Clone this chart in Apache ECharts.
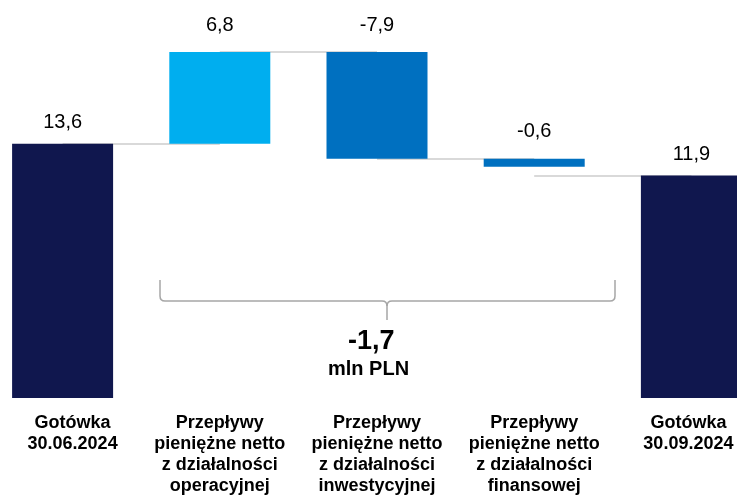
<!DOCTYPE html>
<html>
<head>
<meta charset="utf-8">
<script src="https://cdn.jsdelivr.net/npm/echarts@6/dist/echarts.min.js"></script>
<style>
  html, body { margin: 0; padding: 0; background: #fff; }
  #chart { width: 737px; height: 499px; }
</style>
</head>
<body>
<div id="chart"></div>
<script>
// dane (mln PLN)
var categories = [
  'Gotówka\n30.06.2024',
  'Przepływy\npieniężne netto\nz działalności\noperacyjnej',
  'Przepływy\npieniężne netto\nz działalności\ninwestycyjnej',
  'Przepływy\npieniężne netto\nz działalności\nfinansowej',
  'Gotówka\n30.09.2024'
];
var startCash = 13.6;
var flows = [6.8, -7.9, -0.6];
var endCash = 11.9;
var netChange = -1.7;
var unitText = 'mln PLN';

var FONT = 'Liberation Sans, Arial, sans-serif';
var fmt = function (v) { return String(v).replace('.', ','); };

// pomocnicze serie do wykresu kaskadowego
var levels = [startCash];
flows.forEach(function (f) {
  levels.push(Math.round((levels[levels.length - 1] + f) * 10) / 10);
});
var totals = [startCash, '-', '-', '-', endCash];
var base = ['-'];
var deltas = ['-'];
flows.forEach(function (f, i) {
  base.push(Math.min(levels[i], levels[i + 1]));
  deltas.push({
    value: Math.abs(f),
    itemStyle: { color: f >= 0 ? '#00AEEF' : '#0070C0' }
  });
});
base.push('-');
deltas.push('-');

// skrajne podpisy lekko przesunięte do środka
var catData = categories.map(function (c, i) {
  var pad = [0, 0, 0, 0];
  if (i === 0) pad = [0, 0, 0, 20];
  if (i === categories.length - 1) pad = [0, 6, 0, 0];
  return { value: c, textStyle: { padding: pad } };
});

// linie łączące słupki
var flowLinks = flows.map(function (f, i) {
  return [{ coord: [i, levels[i]] }, { coord: [i + 1, levels[i]] }];
});
var lastLink = [[{ coord: [3, endCash] }, { coord: [4, endCash] }]];

var linkStyle = { color: '#d9d9d9', width: 2, type: 'solid' };

// klamra pod słupkami przepływów
var braceStyle = { stroke: '#a6a6a6', lineWidth: 1.5, fill: null };
function seg(x1, y1, x2, y2) {
  return { type: 'line', silent: true, shape: { x1: x1, y1: y1, x2: x2, y2: y2 }, style: braceStyle };
}
function curve(x1, y1, cx, cy, x2, y2) {
  return {
    type: 'bezierCurve', silent: true,
    shape: { x1: x1, y1: y1, cpx1: cx, cpy1: cy, x2: x2, y2: y2 },
    style: braceStyle
  };
}
var brace = [
  seg(160, 280, 160, 296), curve(160, 296, 160, 301, 165, 301),
  seg(165, 301, 382, 301), curve(382, 301, 387, 301, 387, 306),
  seg(387, 306, 387, 320), curve(387, 306, 387, 301, 392, 301),
  seg(392, 301, 610, 301), curve(610, 301, 615, 301, 615, 296),
  seg(615, 296, 615, 280)
];

var chart = echarts.init(document.getElementById('chart'));

var option = {
  animation: false,
  textStyle: { fontFamily: FONT },
  grid: { left: -16, width: 786, top: 30, bottom: 101, outerBoundsMode: 'none', containLabel: false },
  xAxis: {
    type: 'category',
    data: catData,
    axisLine: { show: false },
    axisTick: { show: false },
    axisLabel: {
      interval: 0,
      margin: 15,
      color: '#000',
      fontSize: 18,
      fontWeight: 'bold',
      lineHeight: 21,
      fontFamily: FONT
    }
  },
  yAxis: [
    { type: 'value', show: false, min: 0, max: 19.69 },
    { type: 'value', show: false, min: -5.23, max: 22.03 }
  ],
  series: [
    {
      name: 'Gotówka',
      type: 'bar',
      yAxisIndex: 0,
      barWidth: 101,
      barGap: '-100%',
      data: totals,
      itemStyle: { color: '#10174E' },
      label: {
        show: true,
        position: 'top',
        distance: 11,
        color: '#000',
        fontSize: 20,
        fontFamily: FONT,
        formatter: function (p) { return fmt(p.value); }
      },
      markLine: {
        silent: true,
        z: 1,
        symbol: 'none',
        label: { show: false },
        lineStyle: linkStyle,
        data: lastLink
      }
    },
    {
      name: 'baza',
      type: 'bar',
      yAxisIndex: 1,
      stack: 'kaskada',
      barWidth: 101,
      barGap: '-100%',
      silent: true,
      itemStyle: { color: 'transparent' },
      data: base
    },
    {
      name: 'Przepływy',
      type: 'bar',
      yAxisIndex: 1,
      stack: 'kaskada',
      barWidth: 101,
      barGap: '-100%',
      data: deltas,
      label: {
        show: true,
        position: 'top',
        distance: 17,
        color: '#000',
        fontSize: 20,
        fontFamily: FONT,
        formatter: function (p) { return fmt(flows[p.dataIndex - 1]); }
      },
      markLine: {
        silent: true,
        z: 1,
        symbol: 'none',
        label: { show: false },
        lineStyle: linkStyle,
        data: flowLinks
      }
    }
  ],
  graphic: brace.concat([
    {
      type: 'text',
      left: 388 - 40,
      top: 328,
      style: {
        text: fmt(netChange),
        width: 80,
        align: 'center',
        fill: '#000',
        font: 'bold 27px ' + FONT
      }
    },
    {
      type: 'text',
      left: 388 - 60,
      top: 359,
      style: {
        text: unitText,
        width: 120,
        align: 'center',
        fill: '#000',
        font: 'bold 20px ' + FONT
      }
    }
  ])
};

chart.setOption(option);
</script>
</body>
</html>
